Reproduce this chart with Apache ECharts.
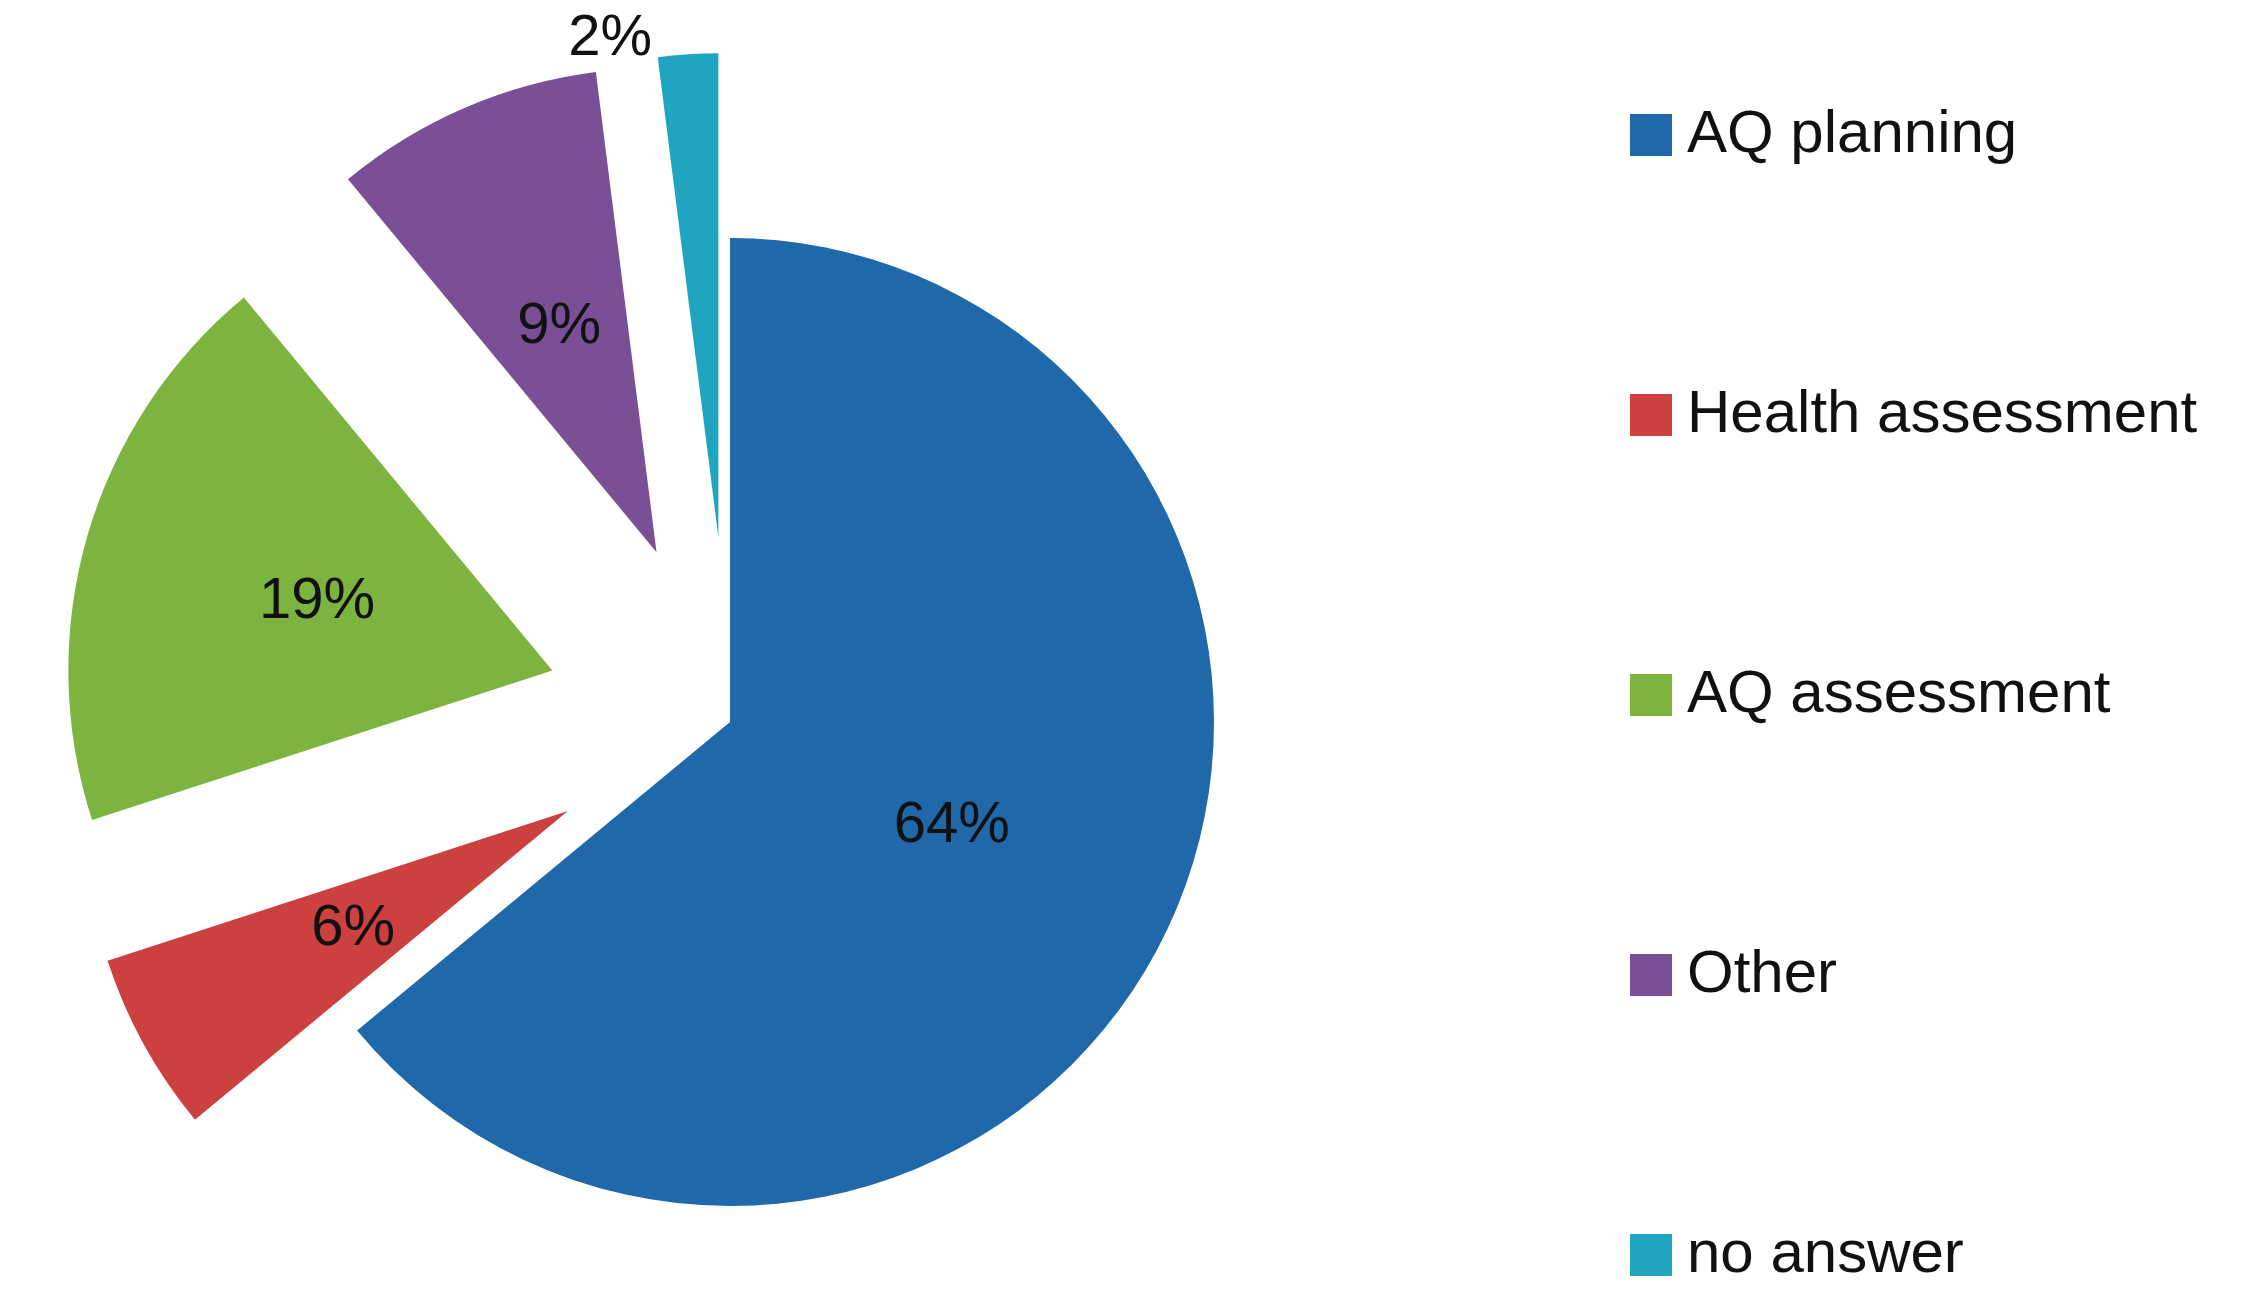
<!DOCTYPE html>
<html><head><meta charset="utf-8">
<script src="https://cdn.jsdelivr.net/npm/echarts@6/dist/echarts.min.js"></script>
<style>html,body{margin:0;background:#fff}#c{width:2265px;height:1305px}</style>
</head><body><div id="c"></div>
<script>
const categories = ['AQ planning','Health assessment','AQ assessment','Other','no answer'];
const values = [64, 6, 19, 9, 2];
const colors = ['#1f69ab','#cc4040','#7db33f','#7a4f95','#1fa5c0'];
const chart = echarts.init(document.getElementById('c'));
chart.setOption({
  animation:false,
  legend:{orient:'vertical', left:1625, top:100, itemGap:220, itemWidth:42, itemHeight:42,
    icon:'rect', textStyle:{fontSize:60, fontFamily:'Liberation Sans', color:'#111', padding:[0,0,0,10]},
    selectedMode:false},
  series:[{
    type:'pie', center:[730,722], radius:[0,484], startAngle:90, clockwise:true,
    selectedMode:'multiple', selectedOffset:185,
    label:{position:'inner', formatter:'{c}%', fontSize:58, fontFamily:'Liberation Sans', color:'#111'},
    labelLine:{show:false},
    data: categories.map((n,i)=>({name:n, value:values[i], selected:i>0,
      itemStyle:{color:colors[i]},
      label: i===4 ? {position:'outside', distance:14} : undefined}))
  }]
});
</script></body></html>
